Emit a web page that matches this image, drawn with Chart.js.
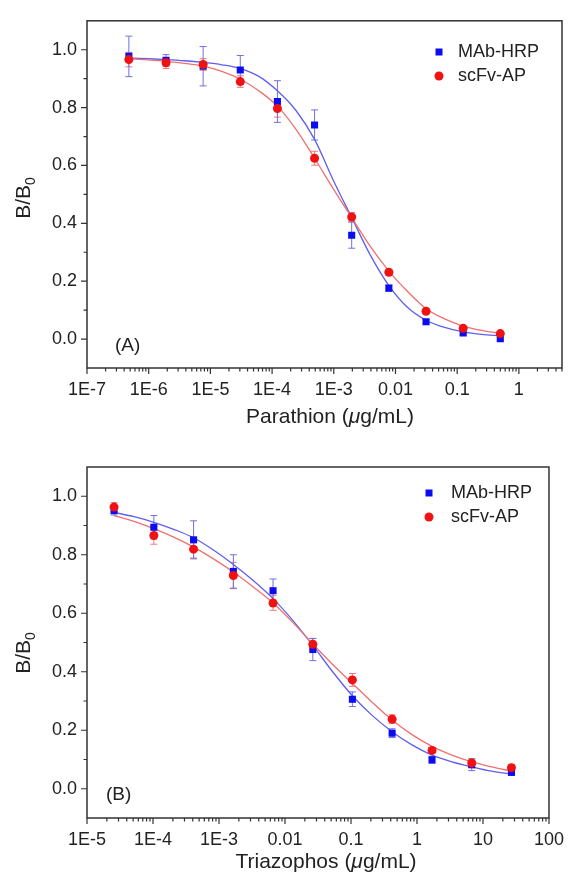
<!DOCTYPE html>
<html>
<head>
<meta charset="utf-8">
<script src="https://cdn.jsdelivr.net/npm/chart.js@4.4.1/dist/chart.umd.min.js"></script>
<style>
  body { margin: 0; background: #fff; }
  canvas { position: absolute; left: 0; }
</style>
</head>
<body>
<canvas id="chartA" width="575" height="440" style="top:0px"></canvas>
<canvas id="chartB" width="575" height="443" style="top:440px"></canvas>
<script>
// ---------- panel A: parathion ----------
const concA = [4.77e-7, 1.91e-6, 7.63e-6, 3.05e-5, 1.22e-4, 4.88e-4, 1.95e-3, 7.81e-3, 0.0313, 0.125, 0.5];
const mabA = [0.977, 0.963, 0.943, 0.930, 0.821, 0.740, 0.359, 0.176, 0.060, 0.021, 0.001];
const mabErrA = [0.070, 0.020, 0.068, 0.050, 0.072, 0.052, 0.045, 0.010, 0.008, 0.006, 0.005];
const scfvA = [0.966, 0.955, 0.949, 0.890, 0.797, 0.625, 0.422, 0.231, 0.096, 0.037, 0.019];
const scfvErrA = [0.025, 0.020, 0.020, 0.020, 0.030, 0.024, 0.015, 0.010, 0.008, 0.008, 0.006];

// fitted curves
const fitXA = [4.77e-7, 9.54e-7, 1.91e-6, 3.81e-6, 7.63e-6, 1.53e-5, 3.05e-5, 6.1e-5, 1.22e-4, 2.44e-4,
  4.88e-4, 9.77e-4, 1.95e-3, 3.91e-3, 7.81e-3, 0.0156, 0.0313, 0.0625, 0.125, 0.25, 0.5];
const fitMabA = [0.972, 0.969, 0.966, 0.962, 0.956, 0.948, 0.935, 0.908, 0.858, 0.790,
  0.690, 0.550, 0.420, 0.290, 0.185, 0.110, 0.065, 0.040, 0.025, 0.016, 0.011];
const fitScfvA = [0.969, 0.965, 0.960, 0.953, 0.943, 0.925, 0.898, 0.858, 0.805, 0.725,
  0.625, 0.520, 0.420, 0.320, 0.235, 0.165, 0.105, 0.070, 0.045, 0.030, 0.020];

const tickValsA = [1e-7, 1e-6, 1e-5, 1e-4, 1e-3, 0.01, 0.1, 1];
const tickLabelsA = ['1E-7', '1E-6', '1E-5', '1E-4', '1E-3', '0.01', '0.1', '1'];

// ---------- panel B: triazophos ----------
const concB = [2.57e-5, 1.03e-4, 4.12e-4, 1.65e-3, 6.59e-3, 0.0264, 0.105, 0.42, 1.69, 6.75, 27];
const mabB = [0.951, 0.894, 0.851, 0.743, 0.677, 0.476, 0.306, 0.190, 0.099, 0.082, 0.056];
const mabErrB = [0.015, 0.040, 0.065, 0.057, 0.040, 0.038, 0.025, 0.015, 0.012, 0.020, 0.010];
const scfvB = [0.963, 0.866, 0.819, 0.729, 0.635, 0.494, 0.372, 0.238, 0.131, 0.088, 0.072];
const scfvErrB = [0.015, 0.030, 0.030, 0.045, 0.025, 0.020, 0.022, 0.015, 0.010, 0.015, 0.010];

const fitXB = [2.57e-5, 5.15e-5, 1.03e-4, 2.06e-4, 4.12e-4, 8.24e-4, 1.65e-3, 3.3e-3, 6.59e-3, 0.0132,
  0.0264, 0.0527, 0.105, 0.211, 0.42, 0.84, 1.69, 3.38, 6.75, 13.5, 27];
const fitMabB = [0.945, 0.930, 0.911, 0.887, 0.858, 0.816, 0.767, 0.712, 0.650, 0.575,
  0.490, 0.400, 0.318, 0.250, 0.195, 0.150, 0.115, 0.092, 0.075, 0.060, 0.050];
const fitScfvB = [0.934, 0.914, 0.889, 0.860, 0.826, 0.786, 0.741, 0.690, 0.635, 0.568,
  0.495, 0.425, 0.360, 0.295, 0.235, 0.185, 0.145, 0.115, 0.092, 0.075, 0.060];

const tickValsB = [1e-5, 1e-4, 1e-3, 0.01, 0.1, 1, 10, 100];
const tickLabelsB = ['1E-5', '1E-4', '1E-3', '0.01', '0.1', '1', '10', '100'];

// y axis (shared)
const yTickVals = [0, 0.1, 0.2, 0.3, 0.4, 0.5, 0.6, 0.7, 0.8, 0.9, 1.0];
const yTickLabels = ['0.0', '', '0.2', '', '0.4', '', '0.6', '', '0.8', '', '1.0'];

const seriesNames = ['MAb-HRP', 'scFv-AP'];

const FONT = '"Liberation Sans", Arial, sans-serif';
const TEXT = '#222';
const BLUE = '#0c0cf0', RED = '#f01212';
const BLUE_LINE = '#5e5ef0', RED_LINE = '#f07070';
const BLUE_ERR = '#7070e0', RED_ERR = '#f07a7a';

function pts(xs, ys) { return xs.map((x, i) => ({ x: x, y: ys[i] })); }

function labelFor(v, vals, labels) {
  for (let i = 0; i < vals.length; i++) {
    if (Math.abs(Math.log10(v) - Math.log10(vals[i])) < 1e-6) return labels[i];
  }
  return '';
}

function logTicks(min, max) {
  const out = [];
  for (let e = Math.floor(Math.log10(min)); e <= Math.ceil(Math.log10(max)); e++) {
    for (let m = 1; m <= 9; m++) {
      const v = m * Math.pow(10, e);
      if (v >= min * 0.999 && v <= max * 1.001) out.push(v);
    }
  }
  return out;
}

function drawParts(ctx, parts, cx, cy) {
  let w = 0;
  parts.forEach(p => { ctx.font = p[1]; w += ctx.measureText(p[0]).width; });
  let x = cx - w / 2;
  ctx.textAlign = 'left';
  ctx.textBaseline = 'middle';
  parts.forEach(p => { ctx.font = p[1]; ctx.fillText(p[0], x, cy); x += ctx.measureText(p[0]).width; });
}

const decor = {
  id: 'decor',
  beforeDatasetsDraw(chart) {
    const ctx = chart.ctx, xs = chart.scales.x, ys = chart.scales.y;
    chart.data.datasets.forEach(ds => {
      if (!ds.errors) return;
      ctx.save();
      ctx.strokeStyle = ds.errorColor;
      ctx.lineWidth = 1;
      ds.data.forEach((p, i) => {
        const px = xs.getPixelForValue(p.x);
        const t = ys.getPixelForValue(p.y + ds.errors[i]);
        const b = ys.getPixelForValue(p.y - ds.errors[i]);
        ctx.beginPath();
        ctx.moveTo(px, t); ctx.lineTo(px, b);
        ctx.moveTo(px - 3.5, t); ctx.lineTo(px + 3.5, t);
        ctx.moveTo(px - 3.5, b); ctx.lineTo(px + 3.5, b);
        ctx.stroke();
      });
      ctx.restore();
    });
  },
  afterDraw(chart, args, o) {
    const ctx = chart.ctx, a = chart.chartArea;
    const xs = chart.scales.x, ys = chart.scales.y;
    ctx.save();
    // frame
    ctx.strokeStyle = '#333';
    ctx.lineWidth = 1.5;
    ctx.strokeRect(a.left, a.top, a.right - a.left, a.bottom - a.top);
    // tick marks, outward
    ctx.lineWidth = 1.2;
    ctx.beginPath();
    xs.ticks.forEach(t => {
      const px = xs.getPixelForValue(t.value);
      const len = labelFor(t.value, o.xVals, o.xLabels) ? 6 : 3.5;
      ctx.moveTo(px, a.bottom); ctx.lineTo(px, a.bottom + len);
    });
    yTickVals.forEach((v, i) => {
      const py = ys.getPixelForValue(v);
      const len = yTickLabels[i] ? 6 : 3.5;
      ctx.moveTo(a.left, py); ctx.lineTo(a.left - len, py);
    });
    ctx.stroke();

    ctx.fillStyle = TEXT;
    // x title
    drawParts(ctx, [[o.xTitle, '21px ' + FONT], ['\u03bc', 'italic 21px ' + FONT], ['g/mL)', '21px ' + FONT]],
      o.xTitleX, o.xTitleY);
    // y title B/B0
    ctx.save();
    ctx.translate(o.yTitleX, o.yTitleY);
    ctx.rotate(-Math.PI / 2);
    ctx.font = '21px ' + FONT;
    const w1 = ctx.measureText('B/B').width;
    ctx.font = '14px ' + FONT;
    const w2 = ctx.measureText('0').width;
    const s = -(w1 + w2) / 2;
    ctx.textAlign = 'left';
    ctx.textBaseline = 'alphabetic';
    ctx.font = '21px ' + FONT;
    ctx.fillText('B/B', s, 0);
    ctx.font = '14px ' + FONT;
    ctx.fillText('0', s + w1, 5);
    ctx.restore();
    // panel label
    ctx.font = '19px ' + FONT;
    ctx.textAlign = 'left';
    ctx.textBaseline = 'middle';
    ctx.fillText(o.panel, o.panelX, o.panelY);
    // legend
    ctx.fillStyle = BLUE;
    ctx.fillRect(o.legX - 3.5, o.legY - 3.5, 7, 7);
    ctx.fillStyle = RED;
    ctx.beginPath();
    ctx.arc(o.legX, o.legY + o.legGap, 4.5, 0, Math.PI * 2);
    ctx.fill();
    ctx.fillStyle = TEXT;
    ctx.font = '18px ' + FONT;
    ctx.fillText(seriesNames[0], o.legTextX, o.legY);
    ctx.fillText(seriesNames[1], o.legTextX, o.legY + o.legGap);
    ctx.restore();
  }
};

function makeChart(id, cfg) {
  return new Chart(document.getElementById(id), {
    type: 'scatter',
    data: {
      datasets: [
        { data: pts(cfg.conc, cfg.scfv), errors: cfg.scfvErr, errorColor: RED_ERR,
          pointStyle: 'circle', pointRadius: 4.5, backgroundColor: RED, borderColor: RED, borderWidth: 0 },
        { data: pts(cfg.conc, cfg.mab), errors: cfg.mabErr, errorColor: BLUE_ERR,
          pointStyle: 'rect', pointRadius: 5, backgroundColor: BLUE, borderColor: BLUE, borderWidth: 0 },
        { type: 'line', data: pts(cfg.fitX, cfg.fitScfv), borderColor: RED_LINE, borderWidth: 1.3,
          pointRadius: 0, cubicInterpolationMode: 'monotone', fill: false },
        { type: 'line', data: pts(cfg.fitX, cfg.fitMab), borderColor: BLUE_LINE, borderWidth: 1.3,
          pointRadius: 0, cubicInterpolationMode: 'monotone', fill: false }
      ]
    },
    options: {
      responsive: false,
      animation: false,
      events: [],
      layout: { padding: { top: cfg.padTop, right: cfg.padRight, left: 0, bottom: 0 } },
      plugins: {
        legend: { display: false },
        tooltip: { enabled: false },
        decor: cfg.decor
      },
      scales: {
        x: {
          type: 'logarithmic',
          min: cfg.xMin, max: cfg.xMax,
          grid: { display: false, drawTicks: false },
          border: { display: false },
          afterBuildTicks: s => { s.ticks = logTicks(cfg.xMin, cfg.xMax).map(v => ({ value: v })); },
          afterFit: s => { s.height = cfg.xHeight; },
          ticks: {
            autoSkip: false, maxRotation: 0, minRotation: 0, padding: 11,
            color: TEXT, font: { family: FONT, size: 18 },
            callback: v => labelFor(v, cfg.decor.xVals, cfg.decor.xLabels)
          }
        },
        y: {
          min: -0.1, max: 1.1,
          grid: { display: false, drawTicks: false },
          border: { display: false },
          afterBuildTicks: s => { s.ticks = yTickVals.map(v => ({ value: v })); },
          afterFit: s => { s.width = 87; },
          ticks: {
            autoSkip: false, padding: 10,
            color: TEXT, font: { family: FONT, size: 18 },
            callback: (v, i) => yTickLabels[i]
          }
        }
      }
    },
    plugins: [decor]
  });
}

makeChart('chartA', {
  conc: concA, mab: mabA, mabErr: mabErrA, scfv: scfvA, scfvErr: scfvErrA,
  fitX: fitXA, fitMab: fitMabA, fitScfv: fitScfvA,
  xMin: 1e-7, xMax: 5, xHeight: 72, padTop: 15, padRight: 13,
  decor: {
    xVals: tickValsA, xLabels: tickLabelsA,
    xTitle: 'Parathion (', xTitleX: 330, xTitleY: 417,
    yTitleX: 30, yTitleY: 198,
    panel: '(A)', panelX: 115, panelY: 346,
    legX: 439, legY: 52, legGap: 24, legTextX: 458
  }
});

makeChart('chartB', {
  conc: concB, mab: mabB, mabErr: mabErrB, scfv: scfvB, scfvErr: scfvErrB,
  fitX: fitXB, fitMab: fitMabB, fitScfv: fitScfvB,
  xMin: 1e-5, xMax: 100, xHeight: 65, padTop: 27, padRight: 15,
  decor: {
    xVals: tickValsB, xLabels: tickLabelsB,
    xTitle: 'Triazophos (', xTitleX: 326, xTitleY: 422,
    yTitleX: 30, yTitleY: 213,
    panel: '(B)', panelX: 106, panelY: 355,
    legX: 429, legY: 53, legGap: 24, legTextX: 451
  }
});
</script>
</body>
</html>
